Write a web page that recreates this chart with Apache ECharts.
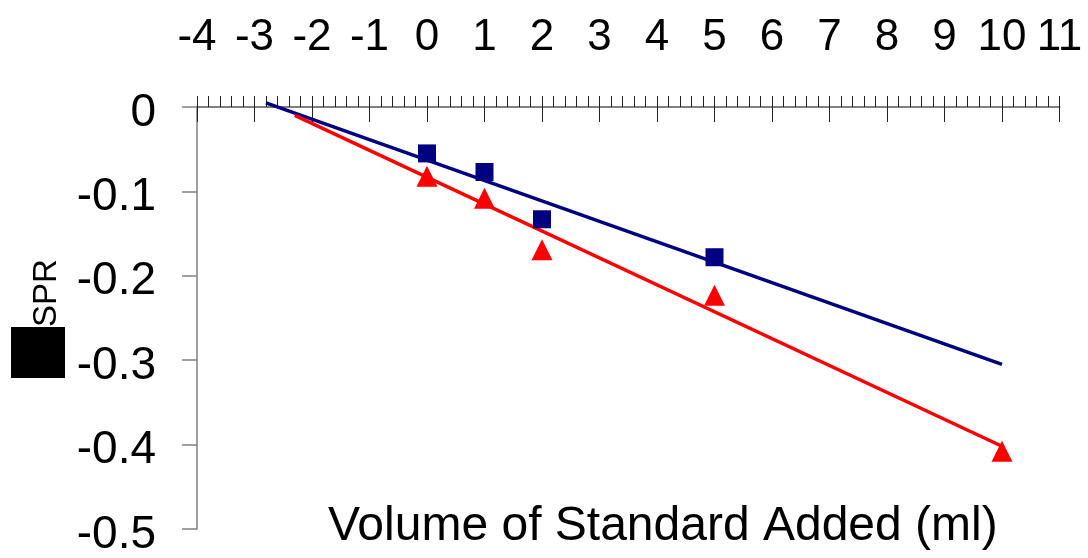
<!DOCTYPE html>
<html>
<head>
<meta charset="utf-8">
<script src="https://cdn.jsdelivr.net/npm/echarts@6/dist/echarts.min.js"></script>
<style>
  html, body { margin: 0; padding: 0; background: #fff; }
  #chart { width: 1088px; height: 558px; }
</style>
</head>
<body>
<div id="chart"></div>
<script>
// Standard-addition data: volume of standard added (ml) vs. SPR response
const volumesA = [0, 1, 2, 5];
const responseA = [-0.055, -0.077, -0.133, -0.178];
const volumesB = [0, 1, 2, 5, 10];
const responseB = [-0.082, -0.108, -0.169, -0.223, -0.408];

// Fitted trend lines, extended back towards the x-intercept
const fitAX = [-2.8, 10];
const fitAY = [0.005, -0.305];
const fitBX = [-2.3, 10];
const fitBY = [-0.010, -0.402];

const xTicks = { min: -4, max: 11, major: 1, minor: 0.2 };
const yTicks = { min: -0.5, max: 0, step: 0.1 };

const FONT = '"Liberation Sans", Arial, sans-serif';
const NAVY = '#000080';
const RED = '#ff0000';

const pairs = (xs, ys) => xs.map((x, i) => [x, ys[i]]);

const chart = echarts.init(document.getElementById('chart'), null, { renderer: 'canvas' });

chart.setOption({
  animation: false,
  backgroundColor: '#ffffff',
  grid: { left: 197, right: 28.5, top: 107, bottom: 25, containLabel: false },
  xAxis: [
    {
      type: 'value',
      position: 'top',
      min: xTicks.min,
      max: xTicks.max,
      interval: xTicks.major,
      axisLine: { onZero: false, lineStyle: { color: '#808080', width: 2 } },
      axisTick: { inside: true, length: 15, lineStyle: { color: '#222', width: 1 } },
      axisLabel: { margin: 47, fontSize: 44, fontFamily: FONT, color: '#000' },
      splitLine: { show: false }
    },
    {
      type: 'value',
      position: 'top',
      min: xTicks.min,
      max: xTicks.max,
      interval: xTicks.minor,
      axisLine: { show: false, onZero: false },
      axisTick: { inside: false, length: 11, lineStyle: { color: '#222', width: 1 } },
      axisLabel: { show: false },
      splitLine: { show: false }
    }
  ],
  yAxis: {
    type: 'value',
    min: yTicks.min,
    max: yTicks.max,
    interval: yTicks.step,
    axisLine: { show: true, onZero: false, lineStyle: { color: '#808080', width: 1.5 } },
    axisTick: { show: true, inside: false, length: 15, lineStyle: { color: '#808080', width: 1.5 } },
    axisLabel: {
      margin: 41, fontSize: 46, fontFamily: FONT, color: '#000',
      verticalAlign: 'top', lineHeight: 46, padding: [-17, 0, 0, 0]
    },
    splitLine: { show: false }
  },
  series: [
    {
      name: 'fitA', type: 'line', data: pairs(fitAX, fitAY), clip: false,
      showSymbol: false, symbol: 'none', lineStyle: { color: NAVY, width: 3.5 }, z: 2
    },
    {
      name: 'fitB', type: 'line', data: pairs(fitBX, fitBY), clip: false,
      showSymbol: false, symbol: 'none', lineStyle: { color: RED, width: 3.5 }, z: 2
    },
    {
      name: 'A', type: 'scatter', data: pairs(volumesA, responseA),
      symbol: 'rect', symbolSize: 18, itemStyle: { color: NAVY, opacity: 1 }, z: 3
    },
    {
      name: 'B', type: 'scatter', data: pairs(volumesB, responseB),
      symbol: 'triangle', symbolSize: [21, 21], itemStyle: { color: RED, opacity: 1 }, z: 3
    }
  ],
  graphic: [
    {
      type: 'text',
      x: 328, y: 551,
      style: {
        text: 'Volume of Standard Added (ml)',
        font: '48px ' + FONT, fill: '#000',
        align: 'left', verticalAlign: 'bottom'
      }
    },
    {
      type: 'text',
      x: 47, y: 293, rotation: Math.PI / 2,
      style: {
        text: 'SPR',
        font: '33px ' + FONT, fill: '#000',
        align: 'center', verticalAlign: 'middle'
      }
    },
    {
      type: 'rect',
      shape: { x: 11, y: 327, width: 54, height: 51 },
      style: { fill: '#000' }
    }
  ]
});
</script>
</body>
</html>
